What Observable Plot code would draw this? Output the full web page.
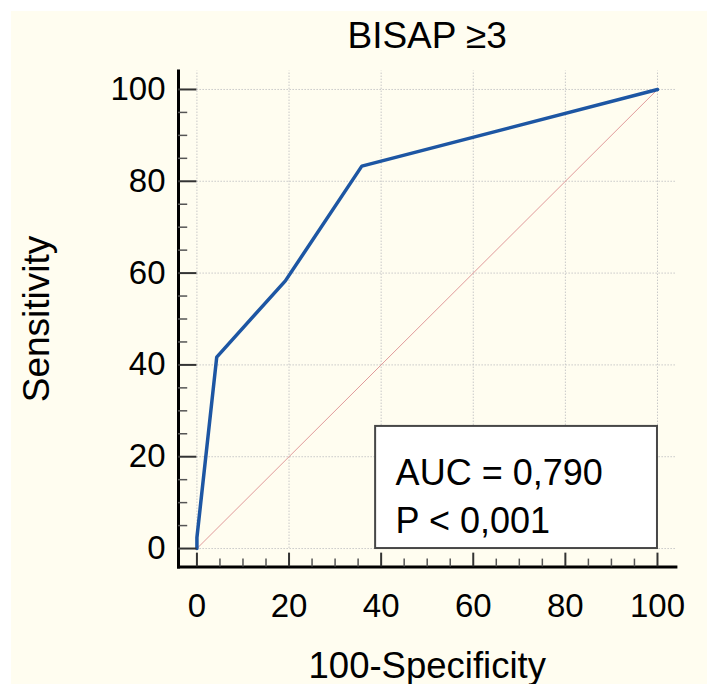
<!DOCTYPE html>
<html>
<head>
<meta charset="utf-8">
<script src="https://cdn.jsdelivr.net/npm/d3@7"></script>
<script src="https://cdn.jsdelivr.net/npm/@observablehq/plot@0.6"></script>
<style>
  html, body { margin: 0; padding: 0; background: #ffffff; }
  #chart { padding: 11px 0 0 11px; }
  #chart svg { display: block; }
</style>
</head>
<body>
<div id="chart"></div>
<script>
// ---- data ----
const chartTitle = "BISAP \u22653";
const xLabel = "100-Specificity";
const yLabel = "Sensitivity";
const fpr = [0, 0, 4.3, 19.2, 35.8, 100];        // 100 - specificity
const tpr = [0, 2.4, 41.7, 58.3, 83.3, 100];     // sensitivity
const diagonal = [0, 100];
const xTicks = [0, 20, 40, 60, 80, 100];
const yTicks = [0, 20, 40, 60, 80, 100];
const minorTicks = [5, 10, 15, 25, 30, 35, 45, 50, 55, 65, 70, 75, 85, 90, 95];
const annotationLines = ["AUC = 0,790", "P < 0,001"];
const annotationBoxX = [38.8, 100];
const annotationBoxY = [0, 26.6];

const roc = fpr.map((x, i) => ({x, y: tpr[i]}));
const diag = diagonal.map(v => ({x: v, y: v}));
const box = [{x1: annotationBoxX[0], x2: annotationBoxX[1], y1: annotationBoxY[0], y2: annotationBoxY[1]}];
const boxText = [{x: annotationBoxX[0], y: annotationBoxY[1], t: annotationLines.join("\n")}];

const font = "'Liberation Sans', Arial, Helvetica, sans-serif";

const chart = Plot.plot({
  width: 696,
  height: 673,
  marginLeft: 167,
  marginRight: 31.6,
  marginTop: 59.6,
  marginBottom: 117.6,
  style: {background: "#fffdf0", fontFamily: font, color: "#000"},
  x: {domain: [-4, 104], axis: null},
  y: {domain: [-4, 104], axis: null},
  marks: [
    // grid
    Plot.ruleX(xTicks, {x: d => d, y1: 0, y2: 104, stroke: "#c8c8c8", strokeWidth: 1, strokeDasharray: "1.5,1.5"}),
    Plot.ruleY(yTicks, {y: d => d, x1: 0, x2: 104, stroke: "#c8c8c8", strokeWidth: 1, strokeDasharray: "1.5,1.5"}),
    // reference diagonal
    Plot.line(diag, {x: "x", y: "y", stroke: "#e09a9a", strokeWidth: 1}),
    // ROC curve
    Plot.line(roc, {x: "x", y: "y", stroke: "#1d56a3", strokeWidth: 3.5, strokeLinejoin: "miter"}),
    // annotation box
    Plot.rect(box, {x1: "x1", x2: "x2", y1: "y1", y2: "y2", fill: "#ffffff", stroke: "#474747", strokeWidth: 2}),
    Plot.text(boxText, {
      x: "x", y: "y", text: "t", textAnchor: "start", lineAnchor: "top", lineHeight: 1.333,
      dx: 20, dy: 24.4, fontSize: 36, fill: "#000"
    }),
    // axis lines
    Plot.frame({anchor: "left", stroke: "#000", strokeWidth: 3}),
    Plot.frame({anchor: "bottom", stroke: "#000", strokeWidth: 3}),
    // ticks (inward from the axis lines)
    Plot.ruleY(yTicks, {y: d => d, x1: -4, x2: 0, stroke: "#333", strokeWidth: 2}),
    Plot.ruleY(minorTicks, {y: d => d, x1: -4, x2: -2, stroke: "#555", strokeWidth: 1.5}),
    Plot.ruleX(xTicks, {x: d => d, y1: -4, y2: -1, stroke: "#333", strokeWidth: 2}),
    Plot.ruleX(minorTicks, {x: d => d, y1: -4, y2: -2.3, stroke: "#555", strokeWidth: 1.5}),
    // tick labels
    Plot.axisY(yTicks, {anchor: "left", tickSize: 0, tickPadding: 13, fontSize: 33, label: null, fill: "#000"}),
    Plot.axisX(xTicks, {anchor: "bottom", tickSize: 0, tickPadding: 27, fontSize: 33, label: null, fill: "#000"}),
    // titles
    Plot.text([chartTitle], {frameAnchor: "top", textAnchor: "middle", lineAnchor: "bottom", dy: -23.6, fontSize: 37, fill: "#000", text: d => d}),
    Plot.text([xLabel], {frameAnchor: "bottom", textAnchor: "middle", lineAnchor: "bottom", dy: 110.6, fontSize: 36.5, fill: "#000", text: d => d}),
    Plot.text([yLabel], {frameAnchor: "left", textAnchor: "middle", lineAnchor: "middle", rotate: -90, dx: -141, fontSize: 37, fill: "#000", text: d => d})
  ]
});

document.getElementById("chart").appendChild(chart);
</script>
</body>
</html>
